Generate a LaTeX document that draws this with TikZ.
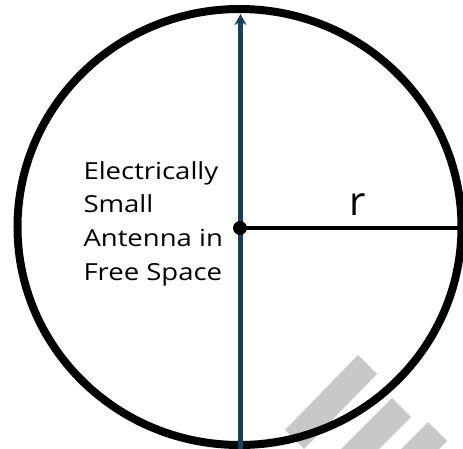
\documentclass[tikz,border=0pt]{standalone}
\usepackage{fontspec}
\setmainfont{Open Sans}
\newfontfamily\labelfont[FakeStretch=1.17]{Open Sans}
\usetikzlibrary{arrows.meta}
\definecolor{axisblue}{RGB}{24,64,90}
\definecolor{stripegray}{RGB}{200,200,200}
\begin{document}
\begin{tikzpicture}[x=1pt,y=-1pt,
  stripe/.style={fill=stripegray,draw=none},
  ring/.style={draw=black,line width=8pt},
  axisline/.style={draw=axisblue,line width=4.5pt,-{Stealth[length=11pt,width=12pt]}},
  radiusline/.style={draw=black,line width=4pt},
  hubdot/.style={circle,fill=black,inner sep=0pt,minimum size=14pt},
  caption/.style={inner sep=0pt,align=left,anchor=base west,
    font=\labelfont\fontsize{23.5pt}{33.6pt}\selectfont},
  rlabel/.style={inner sep=0pt,anchor=base,font=\fontsize{40pt}{40pt}\selectfont}]
\useasboundingbox (0,0) rectangle (463,449);
% watermark stripes
\fill[stripe] (358,355) -- (377,374) -- (304,449) -- (285,430) -- cycle;
\fill[stripe] (392,398) -- (411,417) -- (379,449) -- (341,449) -- cycle;
\fill[stripe] (428,422) -- (447,441) -- (439,449) -- (401,449) -- cycle;
% circle
\coordinate (c) at (239.5,227);
\draw[ring] (c) ellipse [x radius=222, y radius=218];
% axis
\coordinate (bottom) at (240.5,452);
\coordinate (top) at (240.5,14);
\draw[axisline] (bottom) -- (top);
% radius
\node[hubdot] (dot) at (240,228) {};
\coordinate (rend) at (470,228);
\draw[radiusline] (dot.center) -- (rend);
% labels
\node[rlabel] (r) at (358,215) {r};
\node[caption] (txt) at (83.3,280.1) {Electrically\\Small\\Antenna in\\Free Space};
\end{tikzpicture}
\end{document}
